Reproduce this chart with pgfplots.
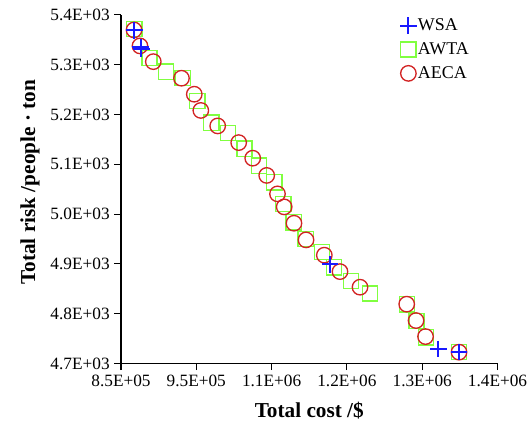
\documentclass[border=0pt]{standalone}
\usepackage{fontspec}
\setmainfont{Liberation Serif}
\usepackage{pgfplots}
\pgfplotsset{compat=1.18}
\definecolor{wsablue}{RGB}{25,25,255}
\definecolor{awtagreen}{RGB}{128,255,64}
\definecolor{aecared}{RGB}{210,35,35}
\begin{document}
\begin{tikzpicture}
\useasboundingbox (-90.75bp,-44.6bp) rectangle (306bp,272.6bp);
\begin{axis}[
  at={(0,0)}, anchor=south west,
  scale only axis, width=282.4bp, height=261.4bp,
  xmin=850000, xmax=1350000, ymin=4700, ymax=5400,
  axis x line*=bottom, axis y line*=left,
  axis line style={-, line width=1bp, black},
  scaled ticks=false,
  xtick={850000,950000,1050000,1150000,1250000,1350000},
  xticklabels={8.5E+05,9.5E+05,1.1E+06,1.2E+06,1.3E+06,1.4E+06},
  ytick={4700,4800,4900,5000,5100,5200,5300,5400},
  yticklabels={4.7E+03,4.8E+03,4.9E+03,5.0E+03,5.1E+03,5.2E+03,5.3E+03,5.4E+03},
  tick align=outside, major tick length=5bp,
  tick style={black, line width=0.8bp},
  minor tick num=0,
  ticklabel style={font=\fontsize{13}{15}\selectfont},
  xlabel={\textbf{Total cost /\$}},
  ylabel={\textbf{Total risk /people · ton}},
  label style={font=\fontsize{16}{18}\selectfont},
  xlabel style={at={(axis description cs:0.5,-0.134)}, anchor=center},
  ylabel style={at={(axis description cs:-0.2417,0.52)}, anchor=center},
  clip=false,
  legend style={at={(axis description cs:0.73,1.005)}, anchor=north west,
    draw=none, fill=none, font=\fontsize{13.5}{16}\selectfont, row sep=3.5bp,
    nodes={inner xsep=1bp}},
  legend cell align=left,
  legend image code/.code={\draw[#1] plot coordinates {(0.22cm,0cm)};},
]
\addlegendimage{only marks, mark=+, mark size=6.2bp, wsablue, mark options={line width=1.5bp}}
\addlegendentry{WSA}
\addlegendimage{only marks, mark=square, mark size=5.7bp, awtagreen, mark options={line width=1bp}}
\addlegendentry{AWTA}
\addlegendimage{only marks, mark=o, mark size=5.8bp, aecared, mark options={line width=1bp}}
\addlegendentry{AECA}

\addplot[forget plot, only marks, mark=square, mark size=5.7bp, awtagreen, mark options={line width=1bp}] table {
x y
867700 5371.3
887800 5313.1
909800 5286.1
931900 5272.9
951300 5226.7
969900 5183.7
992100 5162.5
1014000 5131.5
1033500 5097.4
1053500 5063.7
1065500 5019.9
1079300 4983.3
1095300 4949.8
1116900 4924.1
1133100 4893.0
1155400 4865.9
1180900 4840.4
1229800 4818.7
1242400 4785.6
1255000 4752.4
1298900 4722.7
};
\addplot[forget plot, only marks, mark=o, mark size=5.8bp, aecared, mark options={line width=1bp}] table {
x y
867300 5369.9
875200 5337.8
892900 5306.2
930300 5272.9
947300 5240.8
956000 5208.2
978400 5177.1
1006300 5143.6
1024900 5112.3
1043500 5077.7
1057800 5040.6
1066700 5014.5
1079700 4981.7
1095700 4948.2
1120000 4917.5
1140800 4884.5
1167400 4853.2
1229400 4819.1
1241800 4786.2
1254400 4754.0
1298900 4722.7
};
\addplot[forget plot, only marks, mark=+, mark size=6.2bp, wsablue, mark options={line width=1.5bp}] table {
x y
867700 5368.9
875900 5334.7
877200 5331.7
1127600 4899.0
1271400 4729.3
1298900 4722.7
};
\end{axis}
\end{tikzpicture}
\end{document}
